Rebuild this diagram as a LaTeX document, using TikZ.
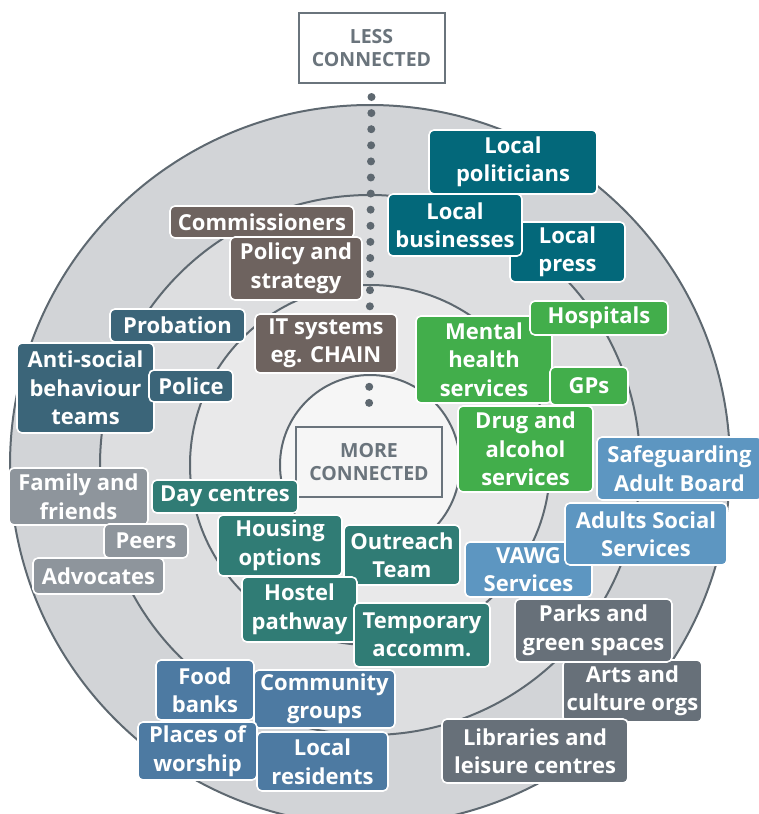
\documentclass[tikz,border=0pt]{standalone}
\usepackage{fontspec}
\IfFontExistsTF{Open Sans SemiBold}
  {\setmainfont{Open Sans}[BoldFont={Open Sans SemiBold}]}
  {\setmainfont{Open Sans}}
\usetikzlibrary{positioning}
\definecolor{ringA}{HTML}{D2D4D7}
\definecolor{ringB}{HTML}{DDDEE0}
\definecolor{ringC}{HTML}{E9E9EA}
\definecolor{ringD}{HTML}{F6F6F6}
\definecolor{rim}{HTML}{5E6870}
\definecolor{labelgrey}{HTML}{6A747C}
\definecolor{strategy}{HTML}{6E635F}
\definecolor{justice}{HTML}{3B6579}
\definecolor{civic}{HTML}{03687A}
\definecolor{health}{HTML}{42AE4B}
\definecolor{social}{HTML}{5D96C1}
\definecolor{housingc}{HTML}{307C75}
\definecolor{personal}{HTML}{8E959C}
\definecolor{community}{HTML}{4D7AA2}
\definecolor{amenity}{HTML}{677079}

\begin{document}
\begin{tikzpicture}[x=1pt, y=-1pt,
  tag/.style={draw=white, line width=1.6pt, rounded corners=5pt, text=white, align=center,
    inner sep=0pt, font=\fontsize{22}{28.5}\selectfont\bfseries},
  wh/.style 2 args={minimum width=#1pt, minimum height=#2pt},
  level/.style={draw=labelgrey, line width=2pt, text=labelgrey, align=center,
    font=\fontsize{19.5}{23}\selectfont\bfseries, minimum width=146pt, minimum height=70pt}]
  \useasboundingbox (0,0) rectangle (758,814);
  \foreach \r/\c in {360/ringA, 270/ringB, 180/ringC, 90/ringD}
    \draw[rim, line width=2pt, fill=\c] (370,465) circle[radius=\r];

  \node[level, fill=white] (less) at (371.5,48) {LESS\\CONNECTED};
  \node[level, fill=ringD] (more) at (369,462) {MORE\\CONNECTED};
  \draw[rim, line width=8pt, line cap=round, dash pattern=on 0pt off 16.1pt]
    ([yshift=-13pt]less.south) -- ([yshift=9pt]more.north);

  \node[tag, fill=strategy, wh={184}{32}] (commissioners) at (262,222) {Commissioners};
  \node[tag, fill=strategy, wh={132}{63}] (policy) at (296,268.5) {Policy and\\strategy};
  \node[tag, fill=strategy, wh={142}{59}] (itsystems) at (326,343.5) {IT systems\\eg. CHAIN};

  \node[tag, fill=justice, wh={135}{33}] (probation) at (177.5,325.5) {Probation};
  \node[tag, fill=justice, wh={137}{90}] (antisocial) at (85.5,388) {Anti-social\\behaviour\\teams};
  \node[tag, fill=justice, wh={84}{32}] (police) at (191,386) {Police};

  \node[tag, fill=civic, wh={168}{64}] (politicians) at (513,162) {Local\\politicians};
  \node[tag, fill=civic, wh={115}{60}] (press) at (567.5,252) {Local\\press};
  \node[tag, fill=civic, wh={134}{62}] (businesses) at (455,225) {Local\\businesses};

  \node[tag, fill=health, wh={136}{87}] (mental) at (484,359.5) {Mental\\health\\services};
  \node[tag, fill=health, wh={138}{34}] (hospitals) at (599,318) {Hospitals};
  \node[tag, fill=health, wh={78}{38}] (gps) at (589,386) {GPs};
  \node[tag, fill=health, wh={135}{86}] (drugs) at (525.5,449) {Drug and\\alcohol\\services};

  \node[tag, fill=social, wh={165}{63}] (safeguarding) at (679.5,468.5) {Safeguarding\\Adult Board};
  \node[tag, fill=social, wh={127}{55}] (vawg) at (528.5,569.5) {VAWG\\Services};
  \node[tag, fill=social, wh={162}{62}] (adultsocial) at (646,534) {Adults Social\\Services};

  \node[tag, fill=amenity, wh={139}{62}] (arts) at (632.5,691) {Arts and\\culture orgs};
  \node[tag, fill=amenity, wh={157}{63}] (parks) at (593.5,630.5) {Parks and\\green spaces};
  \node[tag, fill=amenity, wh={186}{64}] (libraries) at (535,751) {Libraries and\\leisure centres};

  \node[tag, fill=personal, wh={139}{57}] (family) at (78.5,496.5) {Family and\\friends};
  \node[tag, fill=personal, wh={84}{34}] (peers) at (146,541) {Peers};
  \node[tag, fill=personal, wh={131}{36}] (advocates) at (98.5,576) {Advocates};

  \node[tag, fill=housingc, wh={146}{33}] (daycentres) at (225,496.5) {Day centres};
  \node[tag, fill=housingc, wh={124}{61}] (housing) at (280,545.5) {Housing\\options};
  \node[tag, fill=housingc, wh={116}{60}] (outreach) at (402,555) {Outreach\\Team};
  \node[tag, fill=housingc, wh={115}{65}] (hostel) at (299.5,609.5) {Hostel\\pathway};
  \node[tag, fill=housingc, wh={136}{64}] (temporary) at (422,635) {Temporary\\accomm.};

  \node[tag, fill=community, wh={98}{60}] (foodbanks) at (205,690) {Food\\banks};
  \node[tag, fill=community, wh={141}{58}] (groups) at (324.5,699) {Community\\groups};
  \node[tag, fill=community, wh={119}{58}] (worship) at (197.5,751) {Places of\\worship};
  \node[tag, fill=community, wh={131}{59}] (residents) at (322.5,761.5) {Local\\residents};
\end{tikzpicture}
\end{document}
